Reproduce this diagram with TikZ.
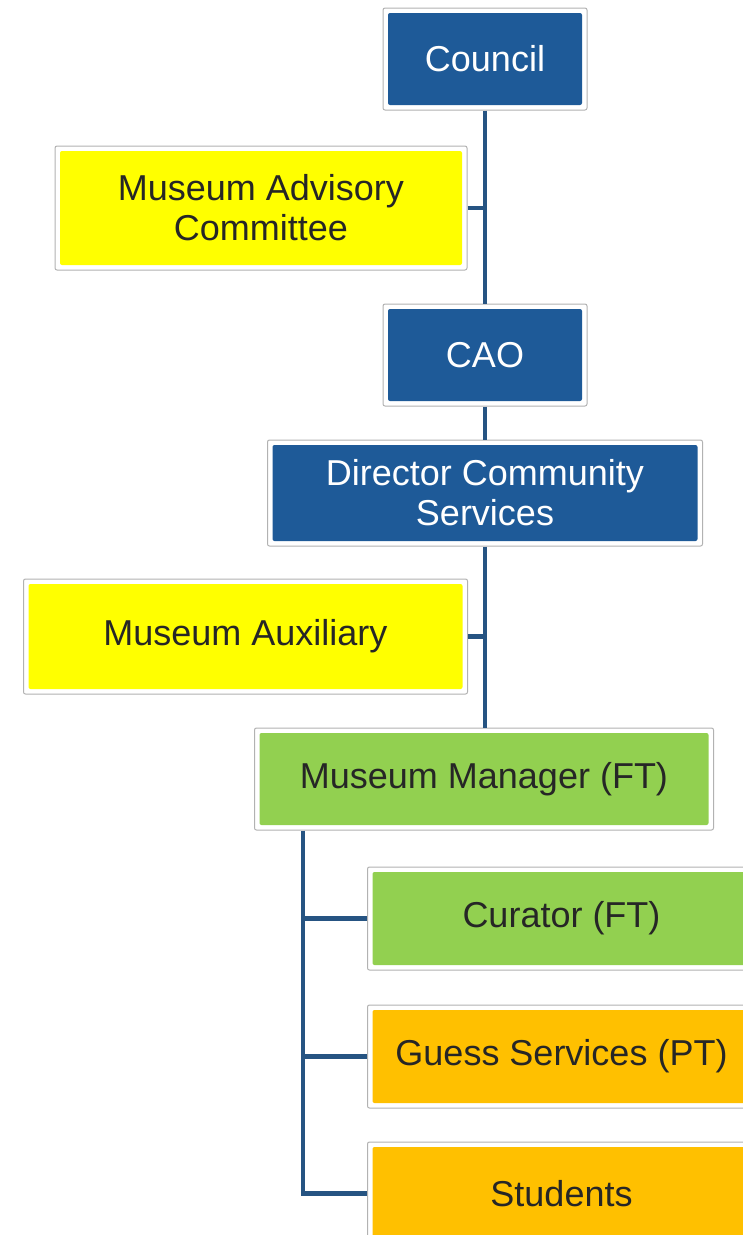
\documentclass[tikz,border=0pt]{standalone}
\usepackage{fontspec}
\setmainfont{Liberation Sans}
\usetikzlibrary{positioning}
\definecolor{boxblue}{RGB}{30,90,152}
\definecolor{boxyellow}{RGB}{255,255,0}
\definecolor{boxgreen}{RGB}{146,208,80}
\definecolor{boxorange}{RGB}{255,192,0}
\definecolor{linkblue}{RGB}{38,84,130}
\tikzset{orgbox/.style={rectangle, rounded corners=2pt, draw=black!30, line width=1pt, fill=white, align=center, font=\fontsize{36}{40}\selectfont, path picture={\fill[#1] ([shift={(5pt,5pt)}]path picture bounding box.south west) rectangle ([shift={(-5pt,-5pt)}]path picture bounding box.north east);}}}
\tikzstyle{bluebox} = [orgbox=boxblue, text=white, minimum width=204pt, minimum height=102pt]
\tikzstyle{yellowbox} = [orgbox=boxyellow, text=black!85]
\tikzstyle{greenbox} = [orgbox=boxgreen, text=black!85, minimum height=102pt]
\tikzstyle{orangebox} = [orgbox=boxorange, text=black!85, minimum width=388pt, minimum height=103pt]
\tikzstyle{link} = [draw=linkblue, line width=4.5pt]
\begin{document}
\begin{tikzpicture}
\useasboundingbox (0,0) rectangle (743pt,-1235pt);
\clip (0,0) rectangle (743pt,-1235pt);

\node (council) [bluebox] at (485pt,-59pt) {Council};
\node (committee) [yellowbox, below=35pt of council, xshift=-224pt, minimum width=412pt, minimum height=124pt] {Museum Advisory\\Committee};
\node (cao) [bluebox, below=193pt of council] {CAO};
\node (director) [bluebox, below=33pt of cao, minimum width=435pt, minimum height=106pt] {Director Community\\Services};
\node (auxiliary) [yellowbox, below=32pt of director, xshift=-239.5pt, minimum width=444pt, minimum height=115pt] {Museum Auxiliary};
\node (manager) [greenbox, below=181pt of director, xshift=-1pt, minimum width=459pt] {Museum Manager (FT)};

\node (curator) [greenbox, below=36pt of manager, xshift=77.5pt, minimum width=388pt, minimum height=103pt] {Curator (FT)};
\node (guess) [orangebox, below=34pt of curator] {Guess Services (PT)};
\node (students) [orangebox, below=33pt of guess] {Students};

\draw [link] (council) -- (cao);
\draw [link] (cao) -- (director);
\draw [link] (director.south) -- (director.south |- manager.north);
\draw [link] (committee.east) -- (committee.east -| council.south);
\draw [link] (auxiliary.east) -- (auxiliary.east -| director.south);

\coordinate (trunk) at ([xshift=49pt]manager.south west);
\draw [link] (trunk) |- (students.west);
\draw [link] (trunk |- curator.west) -- (curator.west);
\draw [link] (trunk |- guess.west) -- (guess.west);
\end{tikzpicture}
\end{document}
